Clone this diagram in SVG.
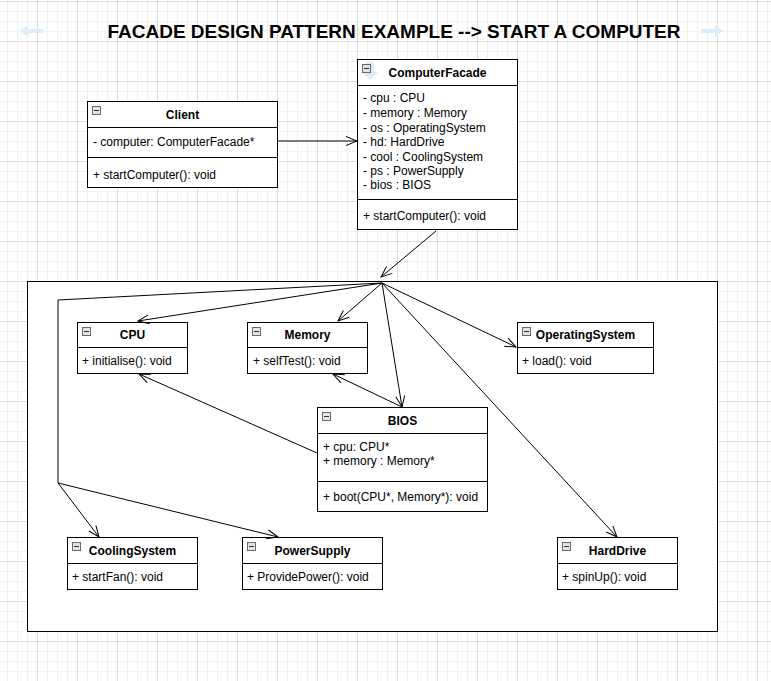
<svg xmlns="http://www.w3.org/2000/svg" width="771" height="681" viewBox="0 0 771 681">
  <defs>
    <pattern id="grid" patternUnits="userSpaceOnUse" x="-3" y="1" width="40" height="40">
      <rect width="40" height="40" fill="#ffffff"/>
      <rect x="10" y="0" width="1" height="40" fill="#f1f1f1"/>
      <rect x="20" y="0" width="1" height="40" fill="#f1f1f1"/>
      <rect x="30" y="0" width="1" height="40" fill="#f1f1f1"/>
      <rect x="0" y="10" width="40" height="1" fill="#f1f1f1"/>
      <rect x="0" y="20" width="40" height="1" fill="#f1f1f1"/>
      <rect x="0" y="30" width="40" height="1" fill="#f1f1f1"/>
      <rect x="0" y="0" width="1" height="40" fill="#dcdcdc"/>
      <rect x="0" y="0" width="40" height="1" fill="#dcdcdc"/>
    </pattern>
    <marker id="open" viewBox="-12 -6 14 12" refX="0" refY="0" markerWidth="14" markerHeight="12" markerUnits="userSpaceOnUse" orient="auto">
      <path d="M-11,-4.5 L0,0 L-11,4.5" fill="none" stroke="#000" stroke-width="1"/>
    </marker>
    <g id="fold">
      <rect x="0.5" y="0.5" width="8" height="8" fill="#e4e4e4" stroke="#6a6a6a" stroke-width="1"/>
      <line x1="2" y1="4.5" x2="7" y2="4.5" stroke="#333" stroke-width="1"/>
    </g>
  </defs>
  <style>
    .box { fill: #ffffff; stroke: #000000; stroke-width: 1; }
    .sep { stroke: #000000; stroke-width: 1; }
    .name { font-family: "Liberation Sans", Arial, Helvetica, sans-serif; font-size: 12px; font-weight: bold; fill: #000; text-anchor: middle; dominant-baseline: central; }
    .member { font-family: "Liberation Sans", Arial, Helvetica, sans-serif; font-size: 12px; fill: #000; dominant-baseline: central; }
    .title { font-family: "Liberation Sans", Arial, Helvetica, sans-serif; font-size: 19px; font-weight: bold; fill: #000; text-anchor: middle; dominant-baseline: central; }
    .edge { fill: none; stroke: #000000; stroke-width: 1; marker-end: url(#open); }
    .hint { fill: #d9eefa; }
  </style>

  <!-- canvas grid -->
  <rect x="0" y="0" width="771" height="681" fill="url(#grid)"/>

  <!-- heading with the canvas navigation hints on either side -->
  <path class="hint" d="M20,31 L28,25 L28,29 L43,29 L43,33 L28,33 L28,37 Z"/>
  <path class="hint" d="M723,31 L715,25 L715,29 L701,29 L701,33 L715,33 L715,37 Z"/>
  <text class="title" x="394" y="31" textLength="573" lengthAdjust="spacingAndGlyphs">FACADE DESIGN PATTERN EXAMPLE --&gt; START A COMPUTER</text>

  <!-- subsystem container -->
  <rect id="subsystem" class="box" x="27.5" y="281.5" width="690" height="350"/>

  <!-- Client -->
  <g id="client">
    <rect class="box" x="87.5" y="101.5" width="190" height="86"/>
    <line class="sep" x1="87.5" y1="127.5" x2="277.5" y2="127.5"/>
    <line class="sep" x1="87.5" y1="157.5" x2="277.5" y2="157.5"/>
    <use href="#fold" x="92" y="106"/>
    <text class="name" x="182.5" y="115">Client</text>
    <text class="member" x="93" y="142">- computer: ComputerFacade*</text>
    <text class="member" x="93" y="175">+ startComputer(): void</text>
  </g>

  <!-- ComputerFacade -->
  <g id="computer-facade">
    <rect class="box" x="357.5" y="59.5" width="160" height="170"/>
    <line class="sep" x1="357.5" y1="85.5" x2="517.5" y2="85.5"/>
    <line class="sep" x1="357.5" y1="199.5" x2="517.5" y2="199.5"/>
    <path class="hint" d="M366,62 L374,62 L374,72 L378,72 L370,80 L362,72 L366,72 Z"/>
    <use href="#fold" x="362" y="64"/>
    <text class="name" x="437.5" y="73">ComputerFacade</text>
    <text class="member" x="363" y="98">- cpu : CPU</text>
    <text class="member" x="363" y="113">- memory : Memory</text>
    <text class="member" x="363" y="127.5">- os : OperatingSystem</text>
    <text class="member" x="363" y="142">- hd: HardDrive</text>
    <text class="member" x="363" y="156.5">- cool : CoolingSystem</text>
    <text class="member" x="363" y="171">- ps : PowerSupply</text>
    <text class="member" x="363" y="185">- bios : BIOS</text>
    <text class="member" x="363" y="216">+ startComputer(): void</text>
  </g>

  <!-- CPU -->
  <g id="cpu">
    <rect class="box" x="77.5" y="322.5" width="110" height="51"/>
    <line class="sep" x1="77.5" y1="347.5" x2="187.5" y2="347.5"/>
    <use href="#fold" x="82" y="327"/>
    <text class="name" x="132.5" y="335">CPU</text>
    <text class="member" x="82" y="360.5">+ initialise(): void</text>
  </g>

  <!-- Memory -->
  <g id="memory">
    <rect class="box" x="247.5" y="322.5" width="120" height="51"/>
    <line class="sep" x1="247.5" y1="347.5" x2="367.5" y2="347.5"/>
    <use href="#fold" x="252" y="327"/>
    <text class="name" x="307.5" y="335">Memory</text>
    <text class="member" x="253" y="360.5">+ selfTest(): void</text>
  </g>

  <!-- OperatingSystem -->
  <g id="operating-system">
    <rect class="box" x="517.5" y="322.5" width="136" height="51"/>
    <line class="sep" x1="517.5" y1="347.5" x2="653.5" y2="347.5"/>
    <use href="#fold" x="522" y="327"/>
    <text class="name" x="585.5" y="335">OperatingSystem</text>
    <text class="member" x="522" y="360.5">+ load(): void</text>
  </g>

  <!-- BIOS -->
  <g id="bios">
    <rect class="box" x="317.5" y="407.5" width="170" height="104"/>
    <line class="sep" x1="317.5" y1="433.5" x2="487.5" y2="433.5"/>
    <line class="sep" x1="317.5" y1="481.5" x2="487.5" y2="481.5"/>
    <use href="#fold" x="322" y="412"/>
    <text class="name" x="402.5" y="421">BIOS</text>
    <text class="member" x="323" y="446.5">+ cpu: CPU*</text>
    <text class="member" x="323" y="461">+ memory : Memory*</text>
    <text class="member" x="323" y="497">+ boot(CPU*, Memory*): void</text>
  </g>

  <!-- CoolingSystem -->
  <g id="cooling-system">
    <rect class="box" x="67.5" y="537.5" width="130" height="52"/>
    <line class="sep" x1="67.5" y1="563.5" x2="197.5" y2="563.5"/>
    <use href="#fold" x="72" y="542"/>
    <text class="name" x="132.5" y="550.5">CoolingSystem</text>
    <text class="member" x="72" y="576.5">+ startFan(): void</text>
  </g>

  <!-- PowerSupply -->
  <g id="power-supply">
    <rect class="box" x="242.5" y="537.5" width="140" height="52"/>
    <line class="sep" x1="242.5" y1="563.5" x2="382.5" y2="563.5"/>
    <use href="#fold" x="247" y="542"/>
    <text class="name" x="312.5" y="550.5">PowerSupply</text>
    <text class="member" x="247" y="576.5">+ ProvidePower(): void</text>
  </g>

  <!-- HardDrive -->
  <g id="hard-drive">
    <rect class="box" x="557.5" y="537.5" width="120" height="52"/>
    <line class="sep" x1="557.5" y1="563.5" x2="677.5" y2="563.5"/>
    <use href="#fold" x="562" y="542"/>
    <text class="name" x="617.5" y="550.5">HardDrive</text>
    <text class="member" x="562" y="576.5">+ spinUp(): void</text>
  </g>

  <!-- associations -->
  <g id="connectors">
    <path class="edge" d="M278,141 L357,141"/>
    <path class="edge" d="M436,231 L381,277"/>
    <path class="edge" d="M382,283 L138,321"/>
    <path class="edge" d="M382,283 L338,321"/>
    <path class="edge" d="M382,283 L402,407"/>
    <path class="edge" d="M382,283 L516,347"/>
    <path class="edge" d="M382,283 L617,537"/>
    <path class="edge" d="M382,283 L58,300 L58,483 L99,537"/>
    <path class="edge" d="M58,483 L278,537"/>
    <path class="edge" d="M317,453 L139,374"/>
    <path class="edge" d="M402,407 L333,374"/>
  </g>
</svg>
